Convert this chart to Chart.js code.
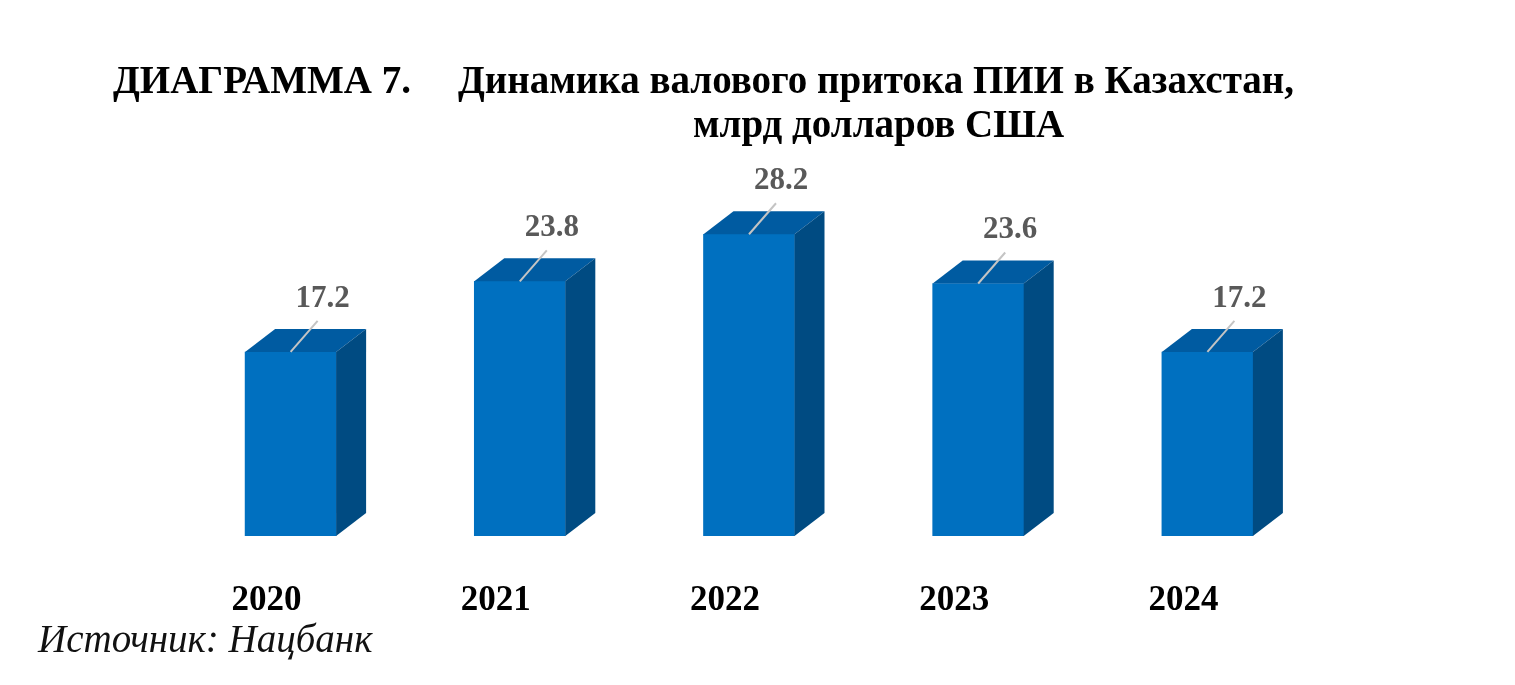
<!DOCTYPE html>
<html lang="ru">
<head>
<meta charset="utf-8">
<title>Диаграмма 7</title>
<script src="https://cdn.jsdelivr.net/npm/chart.js@4/dist/chart.umd.min.js"></script>
<style>
    html, body { margin: 0; padding: 0; background: #ffffff; }
    #wrap { position: relative; width: 1515px; height: 685px; overflow: hidden; }
    #chart { position: absolute; left: 0; top: 0; }
    .txt {
        position: absolute;
        font-family: "Liberation Serif", "Times New Roman", serif;
        line-height: 1;
        white-space: pre;
        color: #000;
    }
    .title { font-weight: bold; font-size: 39px; }
    #source { left: 38px; top: 619px; font-style: italic; font-size: 39px; color: #111; }
</style>
</head>
<body>
<div id="wrap">
    <canvas id="chart" width="1515" height="685"></canvas>
    <div class="txt title" id="t1" style="left:113px; top:60px;">ДИАГРАММА 7.</div>
    <div class="txt title" id="t2" style="left:458px; top:60px;">Динамика валового притока ПИИ в Казахстан,</div>
    <div class="txt title" id="t3" style="left:693px; top:104px;">млрд долларов США</div>
    <div class="txt" id="source">Источник: Нацбанк</div>
</div>
<script>
// --- data ---
const years = ['2020', '2021', '2022', '2023', '2024'];
const inflow = [17.2, 23.8, 28.2, 23.6, 17.2];

// colours of the three faces
const FRONT = '#0070c0';
const TOP = '#005ba1';
const SIDE = '#004b82';

// Draws the top and side faces of each bar + the value labels with leader lines
const cubePlugin = {
    id: 'cube',
    afterDatasetsDraw(chart, args, opts) {
        const ctx = chart.ctx;
        const meta = chart.getDatasetMeta(0);
        const dx = opts.depthX, dy = opts.depthY;

        meta.data.forEach((bar, i) => {
            const p = bar.getProps(['x', 'y', 'base', 'width'], true);
            const left = p.x - p.width / 2;
            const right = p.x + p.width / 2;

            ctx.save();
            // top face
            ctx.fillStyle = TOP;
            ctx.beginPath();
            ctx.moveTo(left, p.y);
            ctx.lineTo(right, p.y);
            ctx.lineTo(right + dx, p.y - dy);
            ctx.lineTo(left + dx, p.y - dy);
            ctx.closePath();
            ctx.fill();

            // side face
            ctx.fillStyle = SIDE;
            ctx.beginPath();
            ctx.moveTo(right, p.y);
            ctx.lineTo(right + dx, p.y - dy);
            ctx.lineTo(right + dx, p.base - dy);
            ctx.lineTo(right, p.base);
            ctx.closePath();
            ctx.fill();

            // leader line
            ctx.strokeStyle = '#c4c4c4';
            ctx.lineWidth = 2;
            ctx.beginPath();
            ctx.moveTo(p.x, p.y);
            ctx.lineTo(p.x + opts.lineX, p.y - opts.lineY);
            ctx.stroke();

            // value label
            ctx.fillStyle = '#595959';
            ctx.font = 'bold 31px "Liberation Serif", serif';
            ctx.textAlign = 'center';
            ctx.textBaseline = 'middle';
            ctx.fillText(inflow[i].toFixed(1), p.x + opts.labelX, p.y - opts.labelY);
            ctx.restore();
        });
    }
};

new Chart(document.getElementById('chart'), {
    type: 'bar',
    data: {
        labels: years,
        datasets: [{
            data: inflow,
            backgroundColor: FRONT,
            borderWidth: 0,
            barThickness: 91
        }]
    },
    options: {
        responsive: false,
        animation: false,
        devicePixelRatio: 1,
        layout: { padding: { left: 176, right: 193, top: 215, bottom: 27 } },
        plugins: {
            legend: { display: false },
            tooltip: { enabled: false },
            cube: { depthX: 30, depthY: 23, lineX: 27, lineY: 31, labelX: 32, labelY: 53 }
        },
        scales: {
            x: {
                grid: { display: false },
                border: { display: false },
                ticks: {
                    color: '#000',
                    font: { family: '"Liberation Serif", serif', size: 35, weight: 'bold' },
                    padding: 36,
                    labelOffset: -24,
                    maxRotation: 0
                }
            },
            y: {
                display: false,
                min: 0,
                max: 30
            }
        }
    },
    plugins: [cubePlugin]
});
</script>
</body>
</html>
